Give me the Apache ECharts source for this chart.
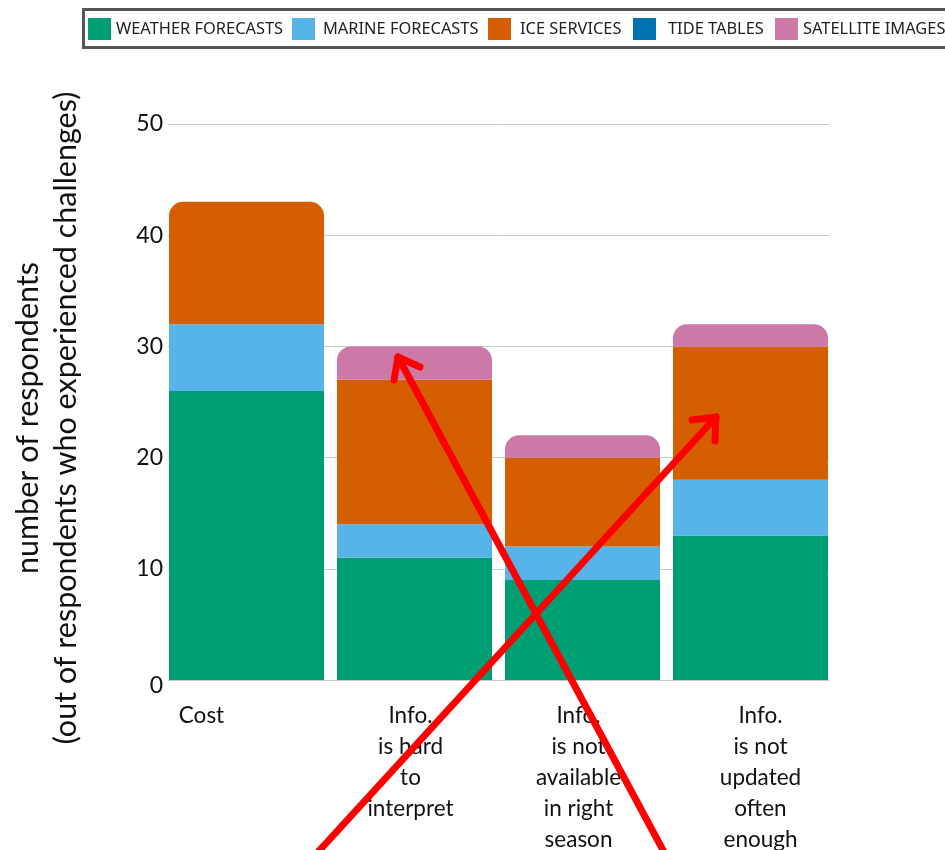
<!DOCTYPE html>
<html>
<head>
<meta charset="utf-8">
<script src="https://cdn.jsdelivr.net/npm/echarts@6/dist/echarts.min.js"></script>
<style>
  html, body { margin: 0; padding: 0; background: #fff; }
  #chart { width: 945px; height: 850px; }
</style>
</head>
<body>
<div id="chart"></div>
<script>
// Challenges reported with each information product
const categories = [
  'Cost',
  'Info.\nis hard\nto\ninterpret',
  'Info.\nis not\navailable\nin right\nseason',
  'Info.\nis not\nupdated\noften\nenough'
];
const seriesNames = ['WEATHER FORECASTS', 'MARINE FORECASTS', 'ICE SERVICES', 'TIDE TABLES', 'SATELLITE IMAGES'];
const weatherForecasts = [26, 11, 9, 13];
const marineForecasts = [6, 3, 3, 5];
const iceServices = [11, 13, 8, 12];
const tideTables = [0, 0, 0, 0];
const satelliteImages = [0, 3, 2, 2];
const yTicks = [0, 10, 20, 30, 40, 50];

const seriesValues = [weatherForecasts, marineForecasts, iceServices, tideTables, satelliteImages];
const colors = ['#009E73', '#56B4E9', '#D55E00', '#0072B2', '#CC79A7'];

// index of the top-most non-empty segment in each stack (gets rounded corners)
const topIndex = categories.map((_, c) => {
  let idx = 0;
  seriesValues.forEach((vals, s) => { if (vals[c] > 0) idx = s; });
  return idx;
});

const series = seriesNames.map((name, s) => ({
  name: name,
  type: 'bar',
  stack: 'total',
  xAxisIndex: 0,
  yAxisIndex: 0,
  barWidth: 155,
  itemStyle: { color: colors[s] },
  emphasis: { disabled: true },
  data: seriesValues[s].map((v, c) => (
    topIndex[c] === s
      ? { value: v, itemStyle: { borderRadius: [14, 14, 0, 0] } }
      : v
  ))
}));

const labelFont = 'Lato, "Open Sans", sans-serif';
// small horizontal nudges for the category labels
const labelPadding = [[0, 90, 0, 0], [0, 8, 0, 0], [0, 8, 0, 0], [0, 0, 0, 20]];
const categoryData = categories.map((c, i) => ({ value: c, textStyle: { padding: labelPadding[i] } }));

// one legend per entry so each key sits at its own spot inside the framed strip
const legendLeft = [88, 292, 488, 633, 775];
const legendTextGap = [0, 3, 4, 7, 0];
const legends = seriesNames.map((name, i) => ({
  data: [name],
  left: legendLeft[i],
  top: 18,
  padding: 0,
  icon: 'rect',
  itemWidth: 23,
  itemHeight: 22,
  selectedMode: false,
  textStyle: {
    fontFamily: '"Noto Sans", sans-serif',
    fontSize: 16.4,
    color: '#222',
    padding: [0, 0, 0, legendTextGap[i]]
  }
}));

const chart = echarts.init(document.getElementById('chart'), null, { renderer: 'canvas' });

// red arrow: shaft plus a two-armed head
function arrow(tail, tip, armA, armB) {
  const style = { stroke: '#ff0000', lineWidth: 7, lineCap: 'round', lineJoin: 'round', fill: null };
  return [
    { type: 'line', z: 100, shape: { x1: tail[0], y1: tail[1], x2: tip[0], y2: tip[1] }, style: style },
    { type: 'polyline', z: 100, shape: { points: [armA, tip, armB] }, style: style }
  ];
}

chart.setOption({
  animation: false,
  color: colors,
  legend: legends,
  grid: [
    { left: 162.5, width: 672, top: 124, bottom: 170, outerBoundsMode: 'none', containLabel: false },
    { left: 168, width: 661, top: 124, bottom: 170, outerBoundsMode: 'none', containLabel: false }
  ],
  xAxis: [
    {
      gridIndex: 0,
      type: 'category',
      data: categoryData,
      axisLine: { show: false },
      axisTick: { show: false },
      axisLabel: {
        interval: 0,
        margin: 20,
        fontFamily: labelFont,
        fontSize: 22.5,
        lineHeight: 31,
        color: '#111',
        align: 'center'
      }
    },
    { gridIndex: 1, type: 'value', show: false, min: 0, max: 1 }
  ],
  yAxis: [
    { gridIndex: 0, type: 'value', min: 0, max: 50, show: false },
    {
      gridIndex: 1,
      type: 'value',
      min: yTicks[0],
      max: yTicks[yTicks.length - 1],
      interval: 10,
      axisLine: { show: false },
      axisTick: { show: false },
      splitLine: { lineStyle: { color: '#c8c8c8', width: 1 } },
      axisLabel: {
        margin: 5,
        fontFamily: labelFont,
        fontSize: 23,
        color: '#111',
        // the zero label sits a little below its gridline
        formatter: (v) => (v === 0 ? '{zero|0}' : String(v)),
        rich: {
          zero: { fontFamily: labelFont, fontSize: 23, color: '#111', padding: [12, 0, 0, 0] }
        }
      }
    }
  ],
  series: series,
  graphic: [
    {
      type: 'rect',
      z: 50,
      shape: { x: 83.5, y: 9.5, width: 900, height: 38 },
      style: { fill: null, stroke: '#555', lineWidth: 3 }
    },
    {
      type: 'text',
      x: 47,
      y: 418,
      rotation: Math.PI / 2,
      style: {
        text: 'number of respondents\n(out of respondents who experienced challenges)',
        x: 0,
        y: 0,
        align: 'center',
        verticalAlign: 'middle',
        lineHeight: 38,
        font: '30.5px Lato, "Open Sans", sans-serif',
        fill: '#111'
      }
    },
    ...arrow([318, 852], [716, 417], [692, 420], [715, 441]),
    ...arrow([664, 852], [398, 357], [420, 367], [394, 380])
  ]
});
</script>
</body>
</html>
